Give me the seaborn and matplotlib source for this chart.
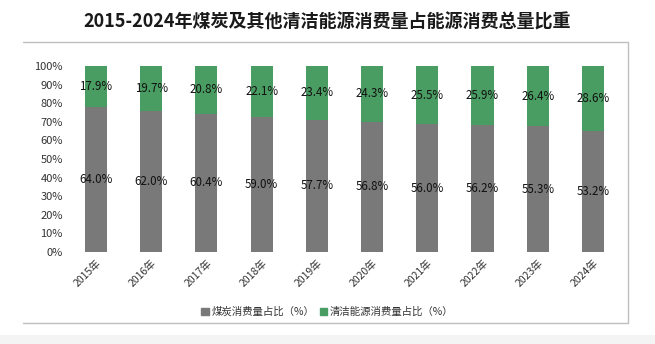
import matplotlib
matplotlib.use("Agg")
import matplotlib.pyplot as plt
from matplotlib.lines import Line2D
from matplotlib.patches import Rectangle
import seaborn as sns
import pandas as pd

years = ["2015年", "2016年", "2017年", "2018年", "2019年", "2020年", "2021年", "2022年", "2023年", "2024年"]
coal = [64.0, 62.0, 60.4, 59.0, 57.7, 56.8, 56.0, 56.2, 55.3, 53.2]
clean = [17.9, 19.7, 20.8, 22.1, 23.4, 24.3, 25.5, 25.9, 26.4, 28.6]
yticks = [0, 10, 20, 30, 40, 50, 60, 70, 80, 90, 100]
title = "2015-2024年煤炭及其他清洁能源消费量占能源消费总量比重"
coal_name = "煤炭消费量占比（%）"
clean_name = "清洁能源消费量占比（%）"

GRAY = "#797979"
GREEN = "#4a9d62"

sns.set_theme(style="white")
plt.rcParams["font.family"] = ["Noto Sans CJK SC", "DejaVu Sans"]

df = pd.DataFrame({"year": years, "coal": coal, "clean": clean})
df["total"] = df["coal"] + df["clean"]
df["coal_share"] = df["coal"] / df["total"] * 100
df["full"] = 100.0

fig = plt.figure(figsize=(6.55, 3.44), dpi=100)
ax = fig.add_axes([0.1044, 0.2674, 0.843, 0.5407])

sns.barplot(data=df, x="year", y="full", color=GREEN, width=0.4, ax=ax, saturation=1, linewidth=0)
sns.barplot(data=df, x="year", y="coal_share", color=GRAY, width=0.4, ax=ax, saturation=1, linewidth=0)

for i, r in df.iterrows():
    ax.text(i, r["coal_share"] / 2, f"{r['coal']:.1f}%", ha="center", va="center",
            fontsize=8.3, color="#111111")
    ax.text(i, (r["coal_share"] + 100) / 2, f"{r['clean']:.1f}%", ha="center", va="center",
            fontsize=8.3, color="#111111")

ax.set_ylim(0, 100)
ax.set_xlim(-0.5, len(years) - 0.5)
ax.set_yticks(yticks)
ax.set_yticklabels([f"{v}%" for v in yticks], fontsize=8, color="#333333")
ax.set_xticks(range(len(years)))
ax.set_xticklabels(years, rotation=45, ha="right", rotation_mode="anchor", fontsize=7.5, color="#333333")
ax.tick_params(axis="both", length=0, pad=4)
ax.set_xlabel("")
ax.set_ylabel("")
for s in ax.spines.values():
    s.set_visible(False)

handles = [Rectangle((0, 0), 1, 1, color=GRAY), Rectangle((0, 0), 1, 1, color=GREEN)]
fig.legend(handles, [coal_name, clean_name], loc="center", bbox_to_anchor=(0.5, 1 - 312 / 344),
           ncol=2, frameon=False, fontsize=7.5, handlelength=0.7, handleheight=0.7,
           handletextpad=0.3, columnspacing=0.5, labelcolor="#333333")

fig.text(0.5, 1 - 22 / 344, title, ha="center", va="center", fontsize=13, fontweight="bold",
         color="#1a1a1a")

# frame lines
x0, x1 = 23 / 655, 628 / 655
yt, yb = 1 - 42 / 344, 1 - 323 / 344
for xs, ys in [([x0, x1], [yt, yt]), ([x1, x1], [yt, yb]), ([x0, x1], [yb, yb])]:
    fig.add_artist(Line2D(xs, ys, transform=fig.transFigure, color="#bfbfbf", lw=1))
fig.add_artist(Rectangle((0, 0), 1, 9 / 344, transform=fig.transFigure, color="#f4f4f4", lw=0))

fig.savefig("out.png", dpi=100)
